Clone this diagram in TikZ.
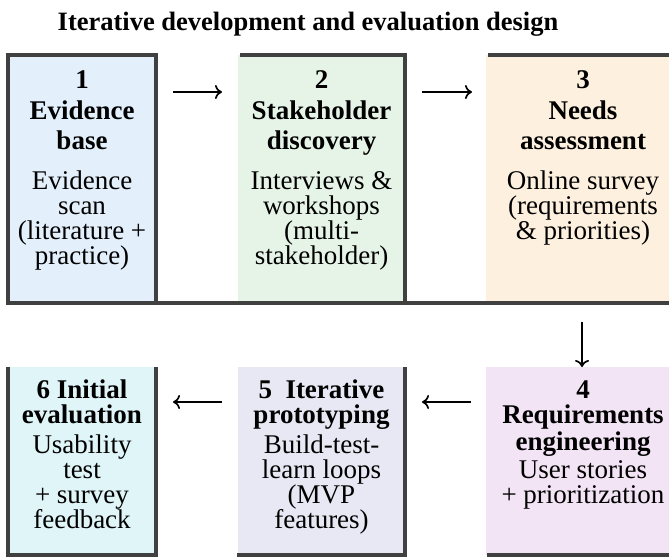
\documentclass[tikz,border=0pt]{standalone}
\usepackage{fontspec}
\setmainfont{Liberation Serif}
\usetikzlibrary{arrows.meta}

\definecolor{rulegray}{HTML}{404040}
\definecolor{evidencefill}{HTML}{E3F0FB}
\definecolor{stakefill}{HTML}{E6F4E7}
\definecolor{needsfill}{HTML}{FEF0DE}
\definecolor{reqfill}{HTML}{F2E3F5}
\definecolor{protofill}{HTML}{E8E8F4}
\definecolor{evalfill}{HTML}{DFF5F8}

\begin{document}
\begin{tikzpicture}[x=1pt,y=-1pt,
  panel/.style={rectangle,draw=none,inner sep=0pt,minimum width=#1},
  toprow/.style={minimum height=248pt},
  lowrow/.style={minimum height=188pt},
  rule/.style={draw=rulegray,line width=4pt,line cap=rect},
  stagetext/.style={align=center,inner sep=0pt,anchor=north},
  toptext/.style={stagetext,font=\fontsize{27}{25}\selectfont},
  lowtext/.style={stagetext,font=\fontsize{27}{25}\selectfont},
  flow/.style={line width=1.7pt,-{Computer Modern Rightarrow[length=7pt,width=14pt]}}]

\useasboundingbox (0,0) rectangle (669,558);
\clip (0,0) rectangle (669,558);

% title
\node[anchor=base,inner sep=0pt,font=\fontsize{26.5}{30}\selectfont\bfseries] (title) at (308,30)
  {Iterative development and evaluation design};

% stage panels (fills)
\node[panel=148pt,toprow,fill=evidencefill] (b1) at (82,179) {};
\node[panel=167pt,toprow,fill=stakefill]    (b2) at (321.5,179) {};
\node[panel=194pt,toprow,fill=needsfill]    (b3) at (583,179) {};
\node[panel=148pt,lowrow,fill=evalfill]     (b6) at (82,461) {};
\node[panel=167pt,lowrow,fill=protofill]    (b5) at (321.5,461) {};
\node[panel=194pt,lowrow,fill=reqfill]      (b4) at (583,461) {};

% rules of the upper row
\draw[rule] (b1.south west) -- (b1.north west) -- (b1.north east) -- (b1.south east);
\draw[rule,line cap=butt] ([xshift=2pt]b2.north west) -- ([xshift=2pt]b2.north east);
\draw[rule] (b2.north east) -- (b2.south east);
\draw[rule,line cap=butt] ([xshift=2pt]b3.north west) -- (b3.north east);
\draw[rule] (b1.south west) -- (b3.south east);

% rules of the lower row
\draw[rule,line cap=butt] (b6.north west) -- ([yshift=-2pt]b6.south west);
\draw[rule,line cap=butt] (b6.north east) -- ([yshift=-2pt]b6.south east);
\draw[rule] (b6.south west) -- (b6.south east);
\draw[rule,line cap=butt] (b5.north east) -- ([yshift=-2pt]b5.south east);
\draw[rule,line cap=butt] ([xshift=-1pt]b5.south west) -- ([xshift=2pt]b5.south east);
\draw[rule,line cap=butt] ([xshift=1pt]b4.south west) -- (b4.south east);

% stage texts
\coordinate (upperline) at (0,68);
\coordinate (lowerline) at (0,378);

\node[toptext] (t1) at (b1 |- upperline)
  {\rule{0pt}{20pt}\textbf{1}\\[6pt] \textbf{Evidence}\\[5pt] \textbf{base}\\[15pt]
   Evidence\\ scan\\ (literature +\\ practice)};
\node[toptext] (t2) at (b2 |- upperline)
  {\rule{0pt}{20pt}\textbf{2}\\[6pt] \textbf{Stakeholder}\\[5pt] \textbf{discovery}\\[15pt]
   Interviews \&\\ workshops\\ (multi-\\ stakeholder)};
\node[toptext] (t3) at (b3 |- upperline)
  {\rule{0pt}{20pt}\textbf{3}\\[6pt] \textbf{Needs}\\[5pt] \textbf{assessment}\\[15pt]
   Online survey\\ (requirements\\ \& priorities)};

\node[lowtext] (t6) at (b6 |- lowerline)
  {\rule{0pt}{20pt}\textbf{6 Initial}\\ \textbf{evaluation}\\[5pt]
   Usability\\ test\\ + survey\\ feedback};
\node[lowtext] (t5) at (b5 |- lowerline)
  {\rule{0pt}{20pt}\textbf{5\ \ Iterative}\\ \textbf{prototyping}\\[5pt]
   Build-test-\\ learn loops\\ (MVP\\ features)};
\node[lowtext] (t4) at (b4 |- lowerline)
  {\rule{0pt}{20pt}\textbf{4}\\ \textbf{Requirements}\\[2pt] \textbf{engineering}\\[3pt]
   User stories\\ + prioritization};

% flow arrows between the stages
\coordinate (a12s) at (173,92);  \coordinate (a12e) at (222,92);
\coordinate (a23s) at (422,92);  \coordinate (a23e) at (472,92);
\coordinate (a34s) at (582,322); \coordinate (a34e) at (582,367);
\coordinate (a45s) at (471,402); \coordinate (a45e) at (422,402);
\coordinate (a56s) at (222,402); \coordinate (a56e) at (173,402);

\draw[flow] (a12s) -- (a12e);
\draw[flow] (a23s) -- (a23e);
\draw[flow] (a34s) -- (a34e);
\draw[flow] (a45s) -- (a45e);
\draw[flow] (a56s) -- (a56e);

\end{tikzpicture}
\end{document}
